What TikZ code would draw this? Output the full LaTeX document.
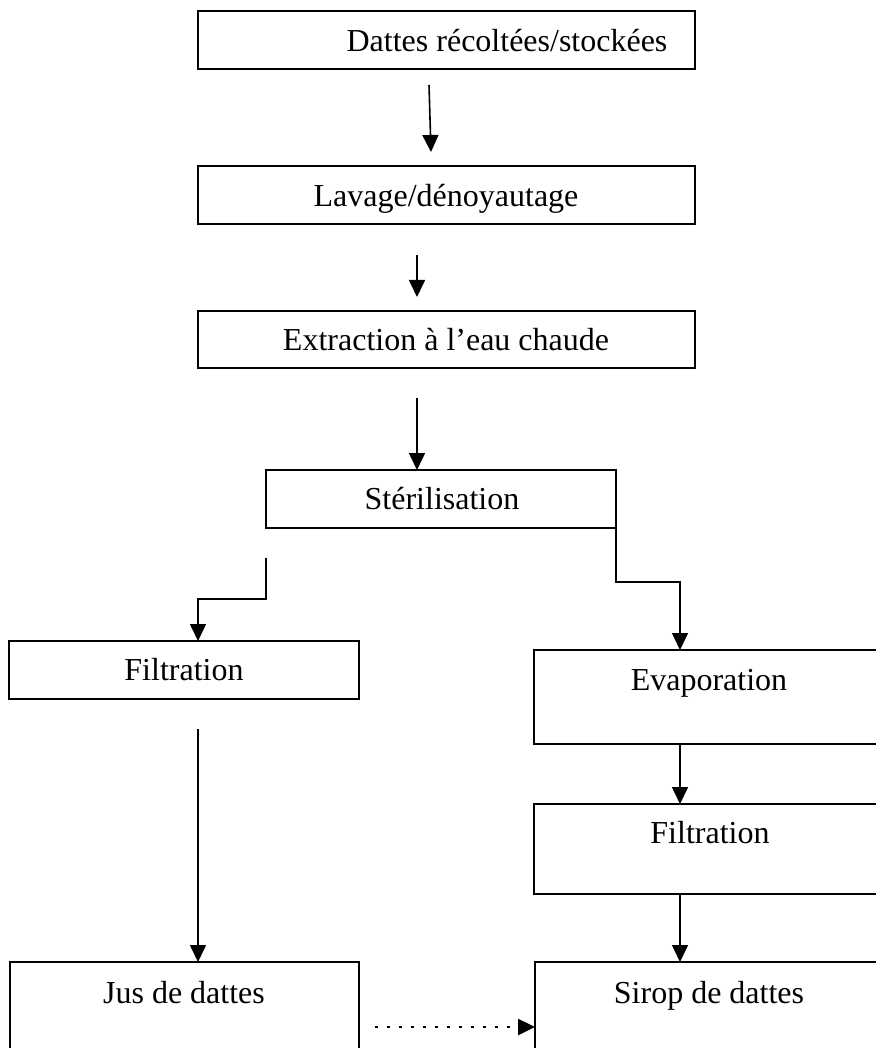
\documentclass[tikz,border=0pt]{standalone}
\usepackage{fontspec}
\setmainfont{Liberation Serif}
\usetikzlibrary{arrows.meta}
\begin{document}
\begin{tikzpicture}[x=1pt,y=-1pt,
  boxline/.style={draw=black,line width=2pt},
  lbl/.style={anchor=base,inner sep=0pt,font=\fontsize{32}{38}\selectfont},
  flow/.style={line width=1.6pt,-{Triangle[width=16pt,length=17pt]}},
  dotflow/.style={line width=2.5pt,dash pattern=on 2.5pt off 9.5pt,-{Triangle[width=16pt,length=17pt]}}]
\useasboundingbox (0,0) rectangle (875,1048);
% boxes
\draw[boxline] (198,11) rectangle (695,69);
\node[lbl] (t1) at (507,52) {Dattes récoltées/stockées};
\draw[boxline] (198,166) rectangle (695,224);
\node[lbl] (t2) at (446,207) {Lavage/dénoyautage};
\draw[boxline] (198,311) rectangle (695,368);
\node[lbl] (t3) at (446,350) {Extraction à l’eau chaude};
\draw[boxline] (266,470) rectangle (616,528);
\node[lbl] (t4) at (442,509) {Stérilisation};
\draw[boxline] (9,641) rectangle (359,699);
\node[lbl] (t5) at (184,680) {Filtration};
\draw[boxline] (534,650) rectangle (900,744);
\node[lbl] (t6) at (709,690) {Evaporation};
\draw[boxline] (534,804) rectangle (900,894);
\node[lbl] (t7) at (710,843) {Filtration};
\draw[boxline] (10,962) rectangle (359,1070);
\node[lbl] (t8) at (184,1003) {Jus de dattes};
\draw[boxline] (535,962) rectangle (900,1070);
\node[lbl] (t9) at (709,1003) {Sirop de dattes};
% connector points
\coordinate (a1s) at (429,85);
\coordinate (a1e) at (431,152);
\coordinate (a2s) at (417,255);
\coordinate (a2e) at (417,297);
\coordinate (a3s) at (417,398);
\coordinate (a3e) at (417,470);
\coordinate (l1) at (266,558);
\coordinate (l2) at (266,599);
\coordinate (l3) at (198,599);
\coordinate (l4) at (198,641);
\coordinate (r1) at (616,528);
\coordinate (r2) at (616,582);
\coordinate (r3) at (680,582);
\coordinate (r4) at (680,650);
\coordinate (ls) at (198,729);
\coordinate (le) at (198,962);
\coordinate (e1) at (680,744);
\coordinate (e2) at (680,804);
\coordinate (f1) at (680,894);
\coordinate (f2) at (680,962);
\coordinate (d1) at (375,1027);
\coordinate (d2) at (535,1027);
% connectors
\draw[flow] (a1s) -- (a1e);
\draw[flow] (a2s) -- (a2e);
\draw[flow] (a3s) -- (a3e);
\draw[flow] (l1) -- (l2) -- (l3) -- (l4);
\draw[flow] (r1) -- (r2) -- (r3) -- (r4);
\draw[flow] (ls) -- (le);
\draw[flow] (e1) -- (e2);
\draw[flow] (f1) -- (f2);
\draw[dotflow] (d1) -- (d2);
\end{tikzpicture}
\end{document}
